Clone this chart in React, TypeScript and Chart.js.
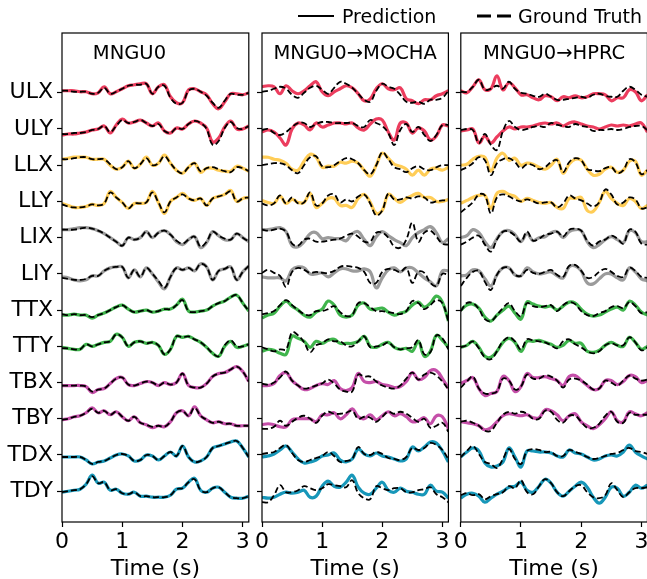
import React, { useEffect, useRef } from "react";
import { Chart, registerables } from "chart.js";

Chart.register(...registerables);

const FONT = "'DejaVu Sans', 'Liberation Sans', sans-serif";

// ---------------- data ----------------
const TIMES = [0, 0.1, 0.2, 0.3, 0.4, 0.5, 0.6, 0.7, 0.8, 0.9, 1.0, 1.1, 1.2, 1.3, 1.4, 1.5,
  1.6, 1.7, 1.8, 1.9, 2.0, 2.1, 2.2, 2.3, 2.4, 2.5, 2.6, 2.7, 2.8, 2.9, 3.0, 3.1];
const X_TICKS = [0, 1, 2, 3];
const ARTICULATORS = ["ULX", "ULY", "LLX", "LLY", "LIX", "LIY", "TTX", "TTY", "TBX", "TBY", "TDX", "TDY"];
const PANEL_TITLES = ["MNGU0", "MNGU0\u2192MOCHA", "MNGU0\u2192HPRC"];
const LEGEND_LABELS = ["Prediction", "Ground Truth"];
const X_LABEL = "Time (s)";

// normalised amplitudes (one row per articulator, 32 samples over 0..3.1 s)
const MNGU0_PRED = [
  [2, 2, 2, 1, 1, -1, 0, 6, -1, 1, 4, 7, 8, 9, 9, -1, 6, 8, -4, -10, -10, 3, 4, 1, -2, -11, -16, -9, -1, -1, -2, 0],
  [-6, -5, -5, -4, -3, -1, 0, 3, -4, 4, 10, 6, 7, 9, 6, 3, 6, -2, -4, 1, 0, 5, 8, 6, 1, -13, -9, 2, 8, 0, 0, 3],
  [6, 7, 8, 8, 8, 6, 6, 6, 0, -4, -2, 4, -3, 1, 8, 0, 2, 10, 2, -5, -8, -2, 2, -7, -3, -3, -5, -6, -6, -1, -3, -6],
  [-2, -4, -6, -6, -5, -3, -4, -2, 10, 4, -1, -7, -2, -2, -1, 10, -1, -12, 0, 4, 8, 3, 1, 3, -4, 3, 5, 7, 11, 0, 3, 4],
  [8, 8, 9, 10, 10, 9, 7, 4, 0, -4, -8, 0, -2, 0, 6, 0, 5, 7, 3, -4, -7, -2, 1, -10, -5, 6, 2, -2, -2, 4, 0, -4],
  [-3, -4, -6, -7, -6, -2, -2, 3, 6, 7, 7, -4, 4, -3, 6, 0, -8, -15, -3, 6, 4, 6, 3, 10, 7, -6, 3, 5, 7, -6, 2, 8],
  [-5, -5, -4, -5, -5, -8, -5, -3, 0, 3, 5, 1, -2, -1, 0, -2, -1, 1, 1, 5, 11, -1, -2, -1, 0, 4, 7, 9, 13, 15, 7, -1],
  [-1, -2, -3, -3, 2, 0, 2, 4, 5, 12, 9, 0, 4, 5, 3, 4, 1, -8, -3, 10, 9, 10, 7, 4, -1, -7, -10, 0, 5, -1, 0, 2],
  [-3, -3, -3, -3, -4, -10, -7, -6, -1, 4, 5, -2, -3, -1, 1, 0, -3, 0, -2, 0, 9, -3, -5, -5, -1, 6, 9, 10, 13, 16, 11, 1],
  [-1, 0, 2, 3, 6, 11, 6, 8, 4, 7, 2, -2, 2, -4, -6, -9, -7, -8, -3, 6, 8, 3, 12, 3, -1, -4, -3, -5, -5, -7, -7, -7],
  [-2, -2, -2, -2, -5, -9, -7, -6, -3, 0, 1, -1, -6, -5, 0, -1, -5, -1, 3, -1, 9, -2, -7, -6, -2, 7, 9, 11, 13, 14, 7, -2],
  [-1, 0, 1, 2, 7, 16, 8, 9, 1, 2, -2, -3, -1, -5, -5, -6, -6, -6, -4, 2, 3, 9, 13, 1, -1, 3, 4, -1, -6, -7, -7, -5],
];
const MNGU0_TRUTH = [
  [2, 2, 1, 1, 1, -1, 0, 5, -1, 1, 4, 7, 8, 8, 9, -1, 6, 7, -5, -11, -10, 2, 4, 1, -3, -10, -15, -8, -1, -2, -2, 0],
  [-5, -5, -4, -4, -3, -1, 0, 3, -3, 3, 9, 6, 7, 9, 6, 3, 5, -2, -4, 1, 0, 5, 8, 6, 0, -16, -12, 1, 7, 1, 0, 3],
  [6, 6, 7, 8, 8, 6, 6, 6, 1, -4, -2, 4, -3, 1, 7, 0, 2, 9, 2, -5, -8, -2, 2, -6, -3, -2, -4, -6, -7, -2, -3, -6],
  [-3, -5, -6, -6, -5, -3, -4, -2, 9, 4, -1, -7, -2, -2, -1, 9, -1, -11, 0, 4, 7, 3, 1, 3, -4, 3, 5, 7, 10, 0, 3, 4],
  [8, 8, 8, 9, 10, 9, 7, 4, 0, -4, -8, 0, -2, 0, 6, 0, 5, 7, 3, -3, -6, -2, 1, -9, -4, 6, 2, -1, -2, 4, 0, -4],
  [-4, -5, -6, -6, -5, -2, -2, 3, 6, 7, 7, -4, 4, -3, 6, 0, -7, -14, -3, 6, 4, 6, 3, 10, 7, -6, 3, 5, 7, -6, 2, 8],
  [-4, -5, -4, -5, -5, -7, -5, -3, 0, 3, 5, 1, -2, -1, 0, -2, -1, 1, 1, 5, 10, -1, -2, -1, 0, 4, 7, 9, 13, 15, 7, -1],
  [-2, -2, -3, -3, 2, 0, 2, 4, 5, 12, 9, 0, 4, 5, 3, 4, 1, -8, -3, 10, 9, 10, 7, 4, -1, -7, -10, 1, 6, 0, 0, 2],
  [-3, -3, -3, -3, -4, -9, -7, -6, -1, 4, 5, -2, -3, -1, 1, 0, -3, 0, -2, 0, 9, -3, -5, -5, -1, 6, 9, 10, 13, 16, 11, 1],
  [-1, 0, 2, 3, 6, 10, 6, 8, 4, 7, 2, -2, 2, -4, -6, -8, -7, -8, -3, 6, 8, 3, 11, 3, -1, -4, -3, -5, -5, -7, -7, -7],
  [-2, -2, -2, -2, -5, -9, -7, -6, -3, 0, 1, -1, -6, -5, 0, -1, -5, -1, 3, -1, 9, -2, -7, -6, -2, 7, 9, 11, 13, 14, 7, -2],
  [-1, 0, 1, 2, 7, 15, 8, 9, 1, 2, -2, -3, -1, -5, -5, -6, -6, -6, -4, 2, 3, 9, 12, 1, -1, 3, 4, -1, -6, -7, -7, -5],
];
const MOCHA_PRED = [
  [6, 7, 6, -1, 7, 2, -1, 2, 7, 11, 1, -3, 1, 4, 7, 5, -1, -8, -6, 4, 9, 4, 3, 5, -6, -8, -11, -7, -7, -3, -1, 2],
  [-3, -1, -3, -9, -16, 0, 6, 4, -1, 6, 2, 4, 6, 6, 5, 6, 1, -1, 5, 10, 9, -3, -11, 6, 6, -4, 1, -2, -11, -7, 4, 3],
  [8, 8, 6, 5, 2, -4, -5, 4, 11, 8, -2, -1, -1, 3, 2, 4, 2, -5, -11, 0, 12, 7, 1, -1, -4, -10, -5, -10, -4, -3, -5, -2],
  [1, -1, -2, 5, -2, 2, -1, -1, 8, -6, -2, 3, 3, -4, -4, -6, 3, 7, -1, -12, -9, 7, 3, -1, 3, 6, 8, 4, 4, 0, 0, 2],
  [8, 8, 9, 10, 6, -8, -9, -4, 4, 5, -1, 0, -1, -1, -3, 4, 6, -2, -8, 1, 6, 2, -2, -5, -8, 0, 5, 8, 11, 5, -5, -1],
  [-3, -4, -4, -4, -7, 4, 7, 6, 0, 0, 1, -3, 1, 5, 5, 3, 3, 5, 2, -14, -4, 4, 6, 2, 6, 6, 1, -4, -8, -12, 3, 3],
  [-8, -5, -3, 4, 9, 4, 0, -5, -7, -2, 1, 9, 5, -5, -7, -5, 5, 7, 1, 1, 2, -2, -5, -3, -1, 5, 8, 3, 7, 14, 8, -11],
  [-5, -3, -4, -7, -8, 10, 8, 5, -1, 5, 3, 6, 7, 3, 3, 3, 5, 10, 0, -1, 2, 4, -1, -3, -2, -5, 5, -10, -5, 11, 6, -1],
  [-3, -3, -1, 7, 10, 2, -3, -7, -6, -3, -1, -2, 2, -6, -8, -5, 9, 1, 0, 1, -2, -3, -5, -4, 1, 10, 3, 5, 12, 12, 4, -6],
  [-6, -5, -6, -8, -8, -1, 0, 0, 0, -3, 4, 4, 6, 0, 4, 10, 2, 0, 4, -1, 3, 7, 3, 5, 2, -3, -2, 1, -5, 3, 2, -10],
  [-2, -1, 1, 5, 9, 3, -4, -8, -7, -5, -1, 0, 2, -5, -7, -4, 6, 1, -1, 2, -1, -2, -4, -6, -4, 8, 4, 8, 13, 12, 4, -7],
  [-6, -7, -6, -3, -1, -2, -1, 1, -6, -5, 5, 10, 5, 4, 9, 16, 4, -2, -3, 3, 9, 1, -1, 3, 0, -1, -3, -3, 6, 0, -1, -7],
];
const MOCHA_TRUTH = [
  [1, 2, 4, 6, 4, -2, -5, 0, 5, 7, 3, -1, 5, 11, 9, 5, -1, -7, -9, 2, 9, 6, 4, -2, -9, -10, -9, -11, -7, -7, -5, 2],
  [-1, 0, -4, -6, -3, 2, 6, 6, 2, 5, 7, 7, 6, 6, 6, 6, 3, 2, 9, 6, 3, -4, -16, -1, 5, -3, 2, -6, -12, -6, 4, 4],
  [0, 1, 2, 2, 0, -5, -8, 0, 8, 9, -1, -2, 0, 4, 7, 6, 2, -5, -9, 0, 13, 6, -2, -4, -7, -3, -1, -4, -5, -2, 0, 0],
  [-2, -4, -2, 6, -2, 4, -2, -1, 9, -4, -2, 6, 7, -1, 2, 0, 5, 7, -2, -14, -9, 8, 2, 2, 4, 3, 5, 4, -1, 0, 1, 1],
  [8, 7, 8, 9, 6, -6, -8, -2, -1, -4, -4, -3, -2, -1, 2, 4, 1, -4, -4, 5, 5, 0, -9, -10, -2, 15, -4, 5, 7, 1, -6, -7],
  [1, 4, 1, -2, -13, 2, 6, 4, 1, 2, 1, 1, 3, 7, 8, 7, 6, 2, -9, -9, 2, 5, 4, 2, 6, -9, 2, 1, -9, -12, 0, -1],
  [-4, -3, -1, 5, 10, 5, 0, -4, -5, -1, -1, 1, 4, -2, -6, -5, 7, 7, 3, -1, -1, -2, -3, -4, -1, 9, 7, 1, 5, 10, 7, -11],
  [-1, -3, -5, -3, -3, 14, 11, 4, -6, 1, 3, 7, 5, 5, 1, 0, 5, 10, -1, 0, 1, 4, -1, -3, -2, -1, 6, -8, -6, 11, 8, -3],
  [-1, -2, 0, 5, 11, 2, -3, -6, -5, -3, -1, 3, -1, -7, -9, -9, 8, 6, 6, 1, -3, -5, -6, -3, 4, 10, 3, 8, 10, 7, 1, -7],
  [-10, -10, -8, -2, -7, -3, 1, 3, 0, -4, 3, 7, 5, 5, 6, 8, 0, 2, 1, -3, 2, 7, 5, 7, 5, 1, -3, 0, -9, -7, -4, -13],
  [1, 2, 3, 7, 10, 2, -5, -7, -5, -3, -1, 3, -1, -7, -6, -4, 8, 1, 0, 3, 1, -3, -4, -5, -2, 7, 5, 7, 12, 10, 5, -4],
  [-11, -11, -4, 6, -1, -1, 1, 5, 3, 1, 3, 7, 6, 5, 4, 11, -2, -7, -8, 5, 3, 1, 3, 3, -1, -1, 1, 2, 4, -3, -6, -11],
];
const HPRC_PRED = [
  [2, 0, 6, 13, 3, 4, 17, 3, 10, 5, -2, -2, -5, -7, -3, -4, -8, -4, -5, -3, -5, -4, -1, -1, -2, -8, -5, -5, 3, 1, -8, -2],
  [-2, -1, 0, -14, -7, -14, -8, -2, 2, 0, 2, 2, 3, 5, 6, 5, 6, 3, 6, 7, 5, 3, 2, 0, 2, 4, 3, 4, 3, 5, 6, -3],
  [0, 1, 6, 9, 8, -6, 7, 12, 5, 7, 0, 2, 1, -2, -4, 0, 6, -8, 1, 6, 5, -4, -10, -9, -4, -2, -7, -5, 4, 4, -10, -5],
  [-2, 1, 4, 6, 6, -7, 8, 10, 7, 5, 0, 3, 1, -1, -2, -1, -6, -7, 3, 3, 4, -9, -10, -1, 10, 3, -2, -4, 3, 0, -7, -4],
  [0, 2, 8, 5, -4, -10, -1, 6, 7, 3, -4, 4, -3, 0, 1, 5, 6, 0, 6, 8, 7, -4, -10, -7, -2, 1, -2, -5, 7, 5, -4, -4],
  [-2, -1, 4, 3, -5, -12, -1, 6, 6, -1, -2, 6, 2, 0, 1, 2, -2, -4, 7, 8, 3, -9, -10, -5, 0, 0, -4, -6, 6, 2, -5, -7],
  [0, 5, 6, 2, -7, -11, -5, 0, 4, -3, -9, 8, 6, 4, 3, 4, 0, 4, 8, 7, 1, -4, -6, -5, -2, 1, 3, 0, 9, 5, -2, -5],
  [-1, 1, 5, -1, -10, -11, -5, 4, 8, 4, -5, 5, 5, 6, 4, 2, -1, 1, 6, 3, 3, -5, -6, -4, 1, 4, 1, 0, 9, 4, -3, 0],
  [-1, 2, 5, -6, -13, -11, -9, 6, 2, -9, -4, 9, 5, 5, 6, 4, 2, -3, 6, 7, 2, -3, -7, -6, 2, 2, -2, 1, 7, 6, 0, 2],
  [-3, -4, -5, -7, -11, -9, -3, 3, 5, 4, 3, 4, 1, 1, 9, 8, 4, -2, 3, 5, -3, -7, -10, -6, 0, 7, -2, -3, 7, 5, 3, 6],
  [-2, 3, 7, 4, -8, -12, -11, -7, 7, -2, -12, 4, 4, 3, 3, 2, -1, -2, 5, 2, 1, -2, -5, -4, -1, 0, -1, 3, 10, 3, -1, -4],
  [-7, -3, -2, -5, -11, -7, -3, 0, 4, 5, 9, 1, -1, 5, 12, 8, -1, -5, 0, 5, 9, 4, -6, -12, -6, 4, 3, -5, -1, 6, 3, 6],
];
const HPRC_TRUTH = [
  [1, 1, 6, 13, 3, 4, 7, 4, 11, 4, 0, -1, -3, -4, -1, -4, -7, -7, -6, -5, -4, -5, -2, -1, -3, -4, -4, 2, 6, 3, -2, -4],
  [-1, 0, -1, -14, -5, -16, -21, -2, 8, 2, -1, 0, 2, 3, 2, 6, 4, 3, 2, 5, 3, 2, -2, -1, -1, 0, -1, 0, 2, 3, 3, -1],
  [-5, -2, 2, 8, 5, -10, 2, 6, 7, 3, -3, 1, 0, -4, -2, 3, 5, -7, 3, 7, 5, -4, -5, -6, -3, -2, -8, -5, 6, 3, -9, -5],
  [-11, -6, -1, 7, 6, -12, 4, 7, 5, 2, 0, 2, 0, -2, -1, -1, -6, -2, 6, 3, 1, -2, -5, -1, 12, 7, -3, -1, 4, 2, -7, -6],
  [-7, -4, 0, 2, -7, -14, -2, 6, 6, 2, -4, 6, -3, -1, 3, 4, 6, 1, 8, 9, 7, -3, -8, -4, -2, 2, -1, -6, 8, 6, -6, -7],
  [-12, -4, 2, 3, -8, -16, -1, 6, 6, -1, -2, 4, 1, 0, 2, 4, -1, -3, 8, 9, 3, -4, -3, 2, 5, 2, -2, -3, 6, 3, -3, -4],
  [-1, 7, 7, 1, -9, -11, -5, 2, 7, -1, -6, 7, 4, 3, 4, 5, -1, 5, 8, 6, -1, -5, -6, -3, -1, 3, 4, 2, 8, 4, -3, -2],
  [-1, 1, 5, -2, -11, -13, -5, 5, 9, 5, -3, 7, 6, 5, 4, 1, -2, 5, 7, 2, -1, -5, -7, -5, 1, 3, 1, 1, 9, 4, -4, -1],
  [-5, 1, 6, -6, -11, -11, -9, 4, 2, -7, -4, 8, 4, 4, 7, 6, 2, -5, 3, 4, 2, -2, -7, -6, 2, 0, -3, 2, 7, 4, 2, 3],
  [-3, -2, -4, -7, -12, -12, -4, 4, 7, 5, 7, 5, 0, 0, 8, 7, -1, -4, 3, 3, -3, -9, -9, -5, 3, 7, -3, -4, 6, 4, 4, 4],
  [-2, 4, 9, 1, -7, -9, -13, -4, 6, -4, -9, 4, 6, 5, 3, 3, -1, -1, 5, 3, 1, -2, -4, -3, -1, 1, 2, 5, 7, 4, 3, 1],
  [-4, -2, -4, -3, -8, -5, -3, -1, 5, 3, 11, -1, -3, 5, 12, 8, -1, -5, 0, 5, 6, -1, -6, -7, -4, 8, 1, -6, -1, 3, 3, 4],
];

// ---------------- styles ----------------
const TRACE_COLORS = ["#EC3D5E", "#EC3D5E", "#FFCD57", "#FFCD57", "#9B9B9B", "#9B9B9B",
  "#3FB54C", "#3FB54C", "#C54FA9", "#C54FA9", "#1797B9", "#1797B9"];
const AMP = 1 / 36.24; // amplitude units per trace spacing
const Y_MIN = -11.85;
const Y_MAX = 1.65;
const CANVAS_H = 590;

const framePlugin = {
  id: "frame",
  afterDatasetsDraw(chart: any) {
    const { ctx, chartArea: a } = chart;
    ctx.save();
    ctx.strokeStyle = "#000";
    ctx.lineWidth = 1.2;
    ctx.strokeRect(a.left, a.top, a.right - a.left, a.bottom - a.top);
    ctx.restore();
  },
};

const titlePlugin = {
  id: "panelTitle",
  afterDraw(chart: any, _args: any, opts: any) {
    const { ctx, chartArea: a } = chart;
    ctx.save();
    ctx.font = `19.5px ${FONT}`;
    ctx.fillStyle = "#000";
    ctx.textAlign = "center";
    ctx.textBaseline = "alphabetic";
    ctx.fillText(opts.text, a.left + opts.frac * (a.right - a.left), opts.baseline);
    ctx.restore();
  },
};

type PanelProps = {
  left: number;
  width: number;
  yAxisWidth: number;
  padRight: number;
  showLabels: boolean;
  title: string;
  titleFrac: number;
  pred: number[][];
  truth: number[][];
};

function Panel(p: PanelProps) {
  const ref = useRef<HTMLCanvasElement>(null);
  useEffect(() => {
    const datasets: any[] = [];
    ARTICULATORS.forEach((name, i) => {
      datasets.push({
        label: `${name} ${LEGEND_LABELS[1]}`,
        data: TIMES.map((t, k) => ({ x: t, y: -i + p.truth[i][k] * AMP })),
        borderColor: "#000",
        borderWidth: 1.8,
        borderDash: [6, 3],
        pointRadius: 0,
        tension: 0.4,
        fill: false,
        order: 0,
      });
      datasets.push({
        label: `${name} ${LEGEND_LABELS[0]}`,
        data: TIMES.map((t, k) => ({ x: t, y: -i + p.pred[i][k] * AMP })),
        borderColor: TRACE_COLORS[i],
        borderWidth: 3.2,
        pointRadius: 0,
        tension: 0.4,
        fill: false,
        order: 1,
      });
    });
    const chart = new Chart(ref.current as HTMLCanvasElement, {
      type: "line",
      data: { datasets },
      plugins: [framePlugin, titlePlugin],
      options: {
        animation: false,
        responsive: false,
        events: [],
        layout: { padding: { top: 33, right: p.padRight, left: 0, bottom: 0 } },
        plugins: {
          legend: { display: false },
          tooltip: { enabled: false },
          panelTitle: { text: p.title, frac: p.titleFrac, baseline: 58.5 },
        } as any,
        scales: {
          x: {
            type: "linear",
            min: 0,
            max: 3.1,
            afterBuildTicks: (s: any) => {
              s.ticks = X_TICKS.map((v) => ({ value: v }));
            },
            afterFit: (s: any) => {
              s.height = CANVAS_H - 522;
            },
            ticks: {
              font: { family: FONT, size: 22 },
              color: "#000",
              padding: 2,
              maxRotation: 0,
              autoSkip: false,
              callback: (v: any) => String(v),
            },
            grid: {
              display: true,
              drawOnChartArea: false,
              drawTicks: true,
              tickLength: 5,
              tickWidth: 1.2,
              tickColor: "#000",
              color: "#000",
            },
            border: { display: false },
            title: {
              display: true,
              text: X_LABEL,
              font: { family: FONT, size: 22 },
              color: "#000",
              padding: { top: 0, bottom: 8 },
            },
          },
          y: {
            type: "linear",
            min: Y_MIN,
            max: Y_MAX,
            afterBuildTicks: (s: any) => {
              s.ticks = ARTICULATORS.map((_, i) => ({ value: -i }));
            },
            afterFit: (s: any) => {
              s.width = p.yAxisWidth;
            },
            ticks: {
              display: p.showLabels,
              font: { family: FONT, size: 22 },
              color: "#000",
              padding: 4,
              autoSkip: false,
              callback: (v: any) => ARTICULATORS[Math.round(-Number(v))],
            },
            grid: {
              display: true,
              drawOnChartArea: false,
              drawTicks: true,
              tickLength: 5,
              tickWidth: 1.2,
              tickColor: "#000",
              color: "#000",
            },
            border: { display: false },
          },
        },
      } as any,
    });
    return () => chart.destroy();
  }, []);
  return (
    <canvas
      ref={ref}
      width={p.width}
      height={CANVAS_H}
      style={{ position: "absolute", left: p.left, top: 0, width: p.width, height: CANVAS_H }}
    />
  );
}

function Legend() {
  const text: React.CSSProperties = {
    position: "absolute",
    top: 5,
    fontFamily: FONT,
    fontSize: 19,
    lineHeight: "22px",
    color: "#000",
    whiteSpace: "nowrap",
  };
  return (
    <>
      <div style={{ position: "absolute", left: 298, top: 14.6, width: 36, height: 0, borderTop: "2.8px solid #000" }} />
      <div style={{ ...text, left: 342 }}>{LEGEND_LABELS[0]}</div>
      <svg style={{ position: "absolute", left: 477, top: 11 }} width={34} height={10}>
        <line x1={0} y1={5} x2={34} y2={5} stroke="#000" strokeWidth={2.8} strokeDasharray="14 6" />
      </svg>
      <div style={{ ...text, left: 518 }}>{LEGEND_LABELS[1]}</div>
    </>
  );
}

export default function App() {
  return (
    <div
      style={{
        position: "fixed",
        left: 0,
        top: 0,
        width: 647,
        height: 579,
        overflow: "hidden",
        background: "#fff",
      }}
    >
      <Panel left={0} width={262} yAxisWidth={62} padRight={13.2} showLabels={true}
        title={PANEL_TITLES[0]} titleFrac={0.361} pred={MNGU0_PRED} truth={MNGU0_TRUTH} />
      <Panel left={252} width={210} yAxisWidth={10} padRight={13.6} showLabels={false}
        title={PANEL_TITLES[1]} titleFrac={0.5} pred={MOCHA_PRED} truth={MOCHA_TRUTH} />
      <Panel left={451} width={210} yAxisWidth={9.8} padRight={13.6} showLabels={false}
        title={PANEL_TITLES[2]} titleFrac={0.5} pred={HPRC_PRED} truth={HPRC_TRUTH} />
      <Legend />
    </div>
  );
}
